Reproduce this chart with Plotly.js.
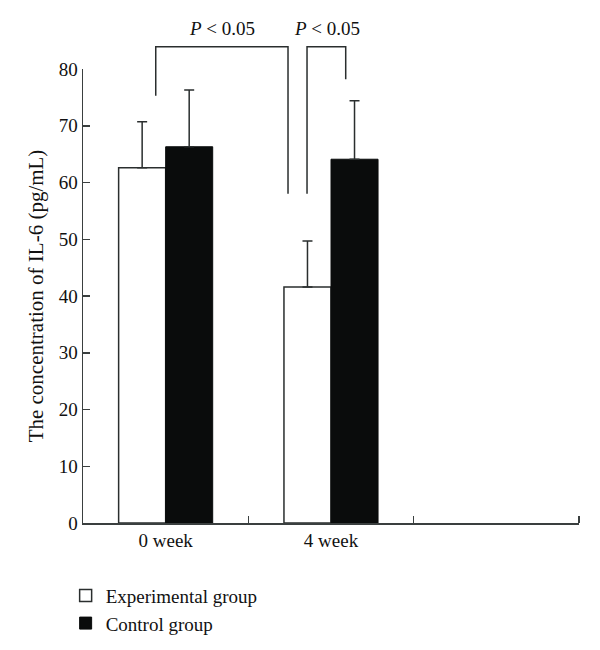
<!DOCTYPE html>
<html>
<head>
<meta charset="utf-8">
<script src="https://cdn.plot.ly/plotly-3.0.1.min.js"></script>
<style>html,body{margin:0;padding:0;background:#fff;}#chart{width:600px;height:650px;}</style>
</head>
<body>
<div id="chart"></div>
<script>
// Data
const categories = ["0 week", "4 week"];
const categoryPositions = [0, 1];
const seriesNames = ["Experimental group", "Control group"];
const experimentalMeans = [62.6, 41.6];
const experimentalErrors = [8.1, 8.1];
const controlMeans = [66.3, 64.1];
const controlErrors = [10.0, 10.3];
const yTickValues = [0, 10, 20, 30, 40, 50, 60, 70, 80];
const pLabel = "<i>P</i> < 0.05";

const xRange = [-0.5, 2.5];
const yRange = [0, 80];
const font = "Liberation Serif, Times New Roman, serif";
const axisColor = "#3a3f3f";
const textColor = "#111111";

// convert data coordinates to paper coordinates (so brackets/labels above the plot are not clipped)
const px = d => (d - xRange[0]) / (xRange[1] - xRange[0]);
const py = d => (d - yRange[0]) / (yRange[1] - yRange[0]);

const traces = [
  {
    type: "bar", name: seriesNames[0], x: categoryPositions, y: experimentalMeans,
    marker: {color: "#ffffff", line: {color: "#2a2e2e", width: 1.5}},
    error_y: {type: "data", symmetric: false, array: experimentalErrors, arrayminus: [0, 0],
              color: "#2a2e2e", thickness: 1.5, width: 5}
  },
  {
    type: "bar", name: seriesNames[1], x: categoryPositions, y: controlMeans,
    marker: {color: "#0a0c0c", line: {color: "#0a0c0c", width: 1}},
    error_y: {type: "data", symmetric: false, array: controlErrors, arrayminus: [0, 0],
              color: "#2a2e2e", thickness: 1.5, width: 5}
  }
];

const bracketColor = "#2a2e2e";
function bracket(x0, x1, yTop, yLeft, yRight) {
  return {type: "path", xref: "paper", yref: "paper",
    path: `M ${px(x0)} ${py(yLeft)} L ${px(x0)} ${py(yTop)} L ${px(x1)} ${py(yTop)} L ${px(x1)} ${py(yRight)}`,
    line: {color: bracketColor, width: 1.5}};
}
const shapes = [
  bracket(-0.060, 0.740, 83.9, 75.3, 58.0),
  bracket(0.855, 1.089, 83.9, 58.0, 78.2)
];

const annotations = [
  {x: px(0.341), y: py(85.0), xref: "paper", yref: "paper", text: pLabel, showarrow: false,
   font: {family: font, size: 19, color: textColor}, yanchor: "bottom", xanchor: "center"},
  {x: px(0.973), y: py(85.0), xref: "paper", yref: "paper", text: pLabel, showarrow: false,
   font: {family: font, size: 19, color: textColor}, yanchor: "bottom", xanchor: "center"}
];

const layout = {
  width: 600, height: 650,
  margin: {l: 83, r: 21, t: 69, b: 127},
  paper_bgcolor: "#ffffff", plot_bgcolor: "#ffffff",
  font: {family: font, size: 19, color: textColor},
  barmode: "group", bargap: 0.431, bargroupgap: 0,
  showlegend: true,
  legend: {x: -0.035, y: 0.113, yref: "container", xanchor: "left", yanchor: "top", orientation: "v",
           font: {family: font, size: 19, color: textColor}, bgcolor: "rgba(0,0,0,0)",
           tracegroupgap: 0, itemwidth: 30},
  xaxis: {
    range: xRange, tickmode: "array", tickvals: categoryPositions, ticktext: categories,
    ticks: "", showline: true, linecolor: axisColor, linewidth: 1.5, showgrid: false, zeroline: false,
    tickfont: {family: font, size: 19, color: textColor},
    minor: {tickmode: "array", tickvals: [0.5, 1.5, 2.5], ticks: "inside", ticklen: 7,
            tickcolor: axisColor, tickwidth: 1.5, showgrid: false}
  },
  yaxis: {
    range: yRange, tickmode: "array", tickvals: yTickValues, ticks: "inside", ticklen: 7,
    tickcolor: axisColor, tickwidth: 1.5, showline: true, linecolor: axisColor, linewidth: 1.5,
    showgrid: false, zeroline: false,
    tickfont: {family: font, size: 19, color: textColor},
    title: {text: "The concentration of IL-6 (pg/mL)", font: {family: font, size: 21, color: textColor}, standoff: 9}
  },
  shapes: shapes,
  annotations: annotations
};

Plotly.newPlot("chart", traces, layout, {displayModeBar: false, staticPlot: true});
</script>
</body>
</html>
